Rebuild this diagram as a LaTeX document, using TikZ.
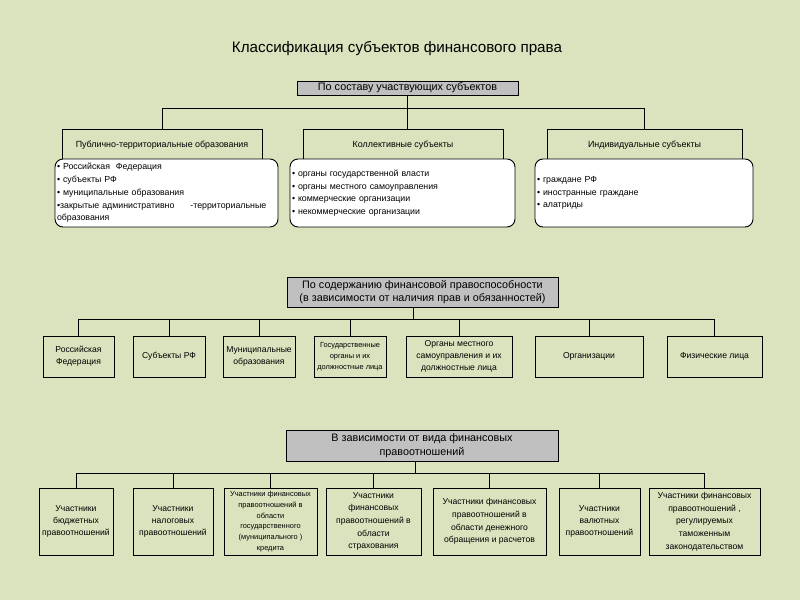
\documentclass[tikz,border=0pt]{standalone}
\usepackage{fontspec}
\setmainfont{Liberation Sans}
\usetikzlibrary{positioning}
\definecolor{slidegreen}{RGB}{218,227,190}
\definecolor{headgray}{RGB}{192,192,192}
\tikzset{
  headbox/.style={draw, fill=headgray, inner sep=1pt, align=center, font=\fontsize{10.8}{13.5}\selectfont},
  groupbox/.style={draw, inner sep=1pt, font=\fontsize{8.9}{10}\selectfont},
  listbox/.style={draw, fill=white, rounded corners=8pt, inner sep=2pt, align=left, font=\fontsize{8.8}{12.7}\selectfont},
  leafbox/.style={draw, inner sep=1pt, align=center, font=\fontsize{8.6}{12}\selectfont},
  tinyleaf/.style={leafbox, font=\fontsize{7.4}{10.7}\selectfont},
}

\begin{document}
\begin{tikzpicture}[x=1pt,y=-1pt,line width=0.9pt]
\fill[slidegreen] (0,0) rectangle (800,600);
\node (title) at (397,49) {\fontsize{15.2}{18}\selectfont Классификация субъектов финансового права};

% по составу участвующих субъектов
\node[headbox, minimum width=221pt, minimum height=14pt] (sostav) at (407.5,88) {По составу участвующих субъектов};
\node[groupbox, minimum width=200pt, minimum height=32pt] (publ) at (162,145) {Публично-территориальные образования};
\node[groupbox, minimum width=200pt, minimum height=32pt] (kollekt) at (403,145) {Коллективные субъекты};
\node[groupbox, minimum width=195pt, minimum height=32pt] (indiv) at (644.5,145) {Индивидуальные субъекты};
\node[listbox, text width=219pt, minimum height=68pt] (publlist) at (166.5,193)
  {\textbullet\ Российская\ \ Федерация\\\textbullet\ субъекты РФ\\\textbullet\ муниципальные образования\\\mbox{\textbullet закрытые административно\hspace{16pt}-территориальные}\\образования};
\node[listbox, text width=221pt, minimum height=68pt] (kolllist) at (402.5,193)
  {\textbullet\ органы государственной власти\\\textbullet\ органы местного самоуправления\\\textbullet\ коммерческие организации\\\textbullet\ некоммерческие организации};
\node[listbox, text width=214pt, minimum height=68pt] (indivlist) at (644,193)
  {\textbullet\ граждане РФ\\\textbullet\ иностранные граждане\\\textbullet\ алатриды};
\coordinate (bus1) at (0,108);
\draw (sostav.south) -- (sostav.south |- kollekt.north);
\draw (publ.north |- bus1) -- (indiv.north |- bus1);
\foreach \n in {publ,indiv}
  \draw (\n.north) -- (\n.north |- bus1);

% по содержанию финансовой правоспособности
\node[headbox, minimum width=271pt, minimum height=30pt] (soderz) at (422.5,292)
  {По содержанию финансовой правоспособности\\(в зависимости от наличия прав и обязанностей)};
\node[leafbox, minimum width=71pt, minimum height=41pt] (rf) at (78.5,356.5) {Российская\\Федерация};
\node[leafbox, minimum width=72pt, minimum height=41pt] (subrf) at (169,356.5) {Субъекты РФ};
\node[leafbox, minimum width=72pt, minimum height=41pt] (munic) at (259,356.5) {Муниципальные\\образования};
\node[tinyleaf, minimum width=72pt, minimum height=41pt] (gosorg) at (350,356.5) {Государственные\\органы и их\\должностные лица};
\node[leafbox, minimum width=106pt, minimum height=41pt] (mestorg) at (459,356.5) {Органы местного\\самоуправления и их\\должностные лица};
\node[leafbox, minimum width=108pt, minimum height=41pt] (organiz) at (589,356.5) {Организации};
\node[leafbox, minimum width=95pt, minimum height=41pt] (fizlica) at (714.5,356.5) {Физические лица};
\coordinate (bus2) at (0,319);
\draw ([xshift=-9.5pt]soderz.south) -- ([xshift=-9.5pt]soderz.south |- bus2);
\draw (rf.north |- bus2) -- (fizlica.north |- bus2);
\foreach \n in {rf,subrf,munic,gosorg,mestorg,organiz,fizlica}
  \draw (\n.north) -- (\n.north |- bus2);

% в зависимости от вида финансовых правоотношений
\node[headbox, minimum width=272pt, minimum height=31pt] (vid) at (422,445.5)
  {В зависимости от вида финансовых\\правоотношений};
\node[leafbox, minimum width=74pt, minimum height=67pt] (budzh) at (76,521.5) {Участники\\бюджетных\\правоотношений};
\node[leafbox, minimum width=80pt, minimum height=67pt] (nalog) at (173,521.5) {Участники\\налоговых\\правоотношений};
\node[tinyleaf, minimum width=93pt, minimum height=67pt] (kredit) at (270.5,521.5)
  {Участники финансовых\\правоотношений в\\области\\государственного\\(муниципального )\\кредита};
\node[leafbox, minimum width=95pt, minimum height=67pt, font=\fontsize{8.6}{12.7}\selectfont] (strah) at (373.5,521.5)
  {Участники\\финансовых\\правоотношений в\\области\\страхования};
\node[leafbox, minimum width=113pt, minimum height=67pt, font=\fontsize{8.6}{12.7}\selectfont] (denezh) at (489.5,521.5)
  {Участники финансовых\\правоотношений в\\области денежного\\обращения и расчетов};
\node[leafbox, minimum width=81pt, minimum height=67pt] (valut) at (599.5,521.5) {Участники\\валютных\\правоотношений};
\node[leafbox, minimum width=111pt, minimum height=67pt, font=\fontsize{8.6}{12.7}\selectfont] (tamozh) at (704.5,521.5)
  {Участники финансовых\\правоотношений ,\\регулируемых\\таможенным\\законодательством};
\coordinate (bus3) at (0,473);
\draw ([xshift=-7pt]vid.south) -- ([xshift=-7pt]vid.south |- bus3);
\draw (budzh.north |- bus3) -- (tamozh.north |- bus3);
\foreach \n in {budzh,nalog,kredit,strah,denezh,valut,tamozh}
  \draw (\n.north) -- (\n.north |- bus3);
\end{tikzpicture}
\end{document}
